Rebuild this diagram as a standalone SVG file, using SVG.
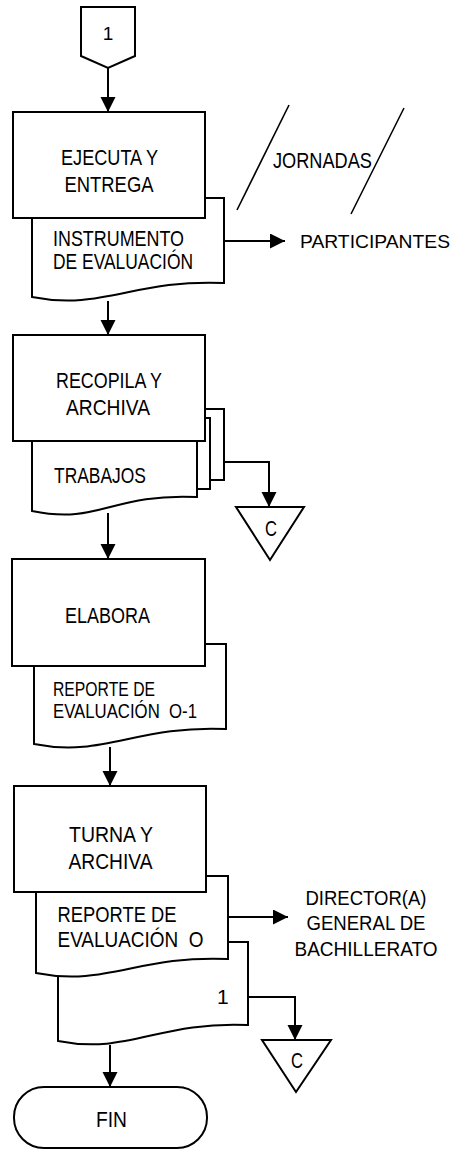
<svg xmlns="http://www.w3.org/2000/svg" width="453" height="1150" viewBox="0 0 453 1150">
  <style>
    .shape { fill: #fff; stroke: #000; stroke-width: 2; }
    .slash { fill: none; stroke: #000; stroke-width: 1.6; }
    .arrow { fill: none; stroke: #000; stroke-width: 2; marker-end: url(#head); }
    text { font-family: "Liberation Sans", Arial, sans-serif; font-size: 22px; fill: #000; white-space: pre; }
    .c { text-anchor: middle; }
    .small { font-size: 19.5px; }
    .side { font-size: 19px; }
    .dest { font-size: 20px; }
  </style>
  <defs>
    <marker id="head" markerUnits="userSpaceOnUse" markerWidth="16" markerHeight="16" refX="15" refY="7.5" orient="auto">
      <path d="M0,0 L15,7.5 L0,15 Z" fill="#000"/>
    </marker>
  </defs>

  <!-- connectors -->
  <g id="connectors">
    <line class="arrow" x1="108" y1="68" x2="108" y2="112"/>
    <line class="arrow" x1="224" y1="241" x2="285" y2="241"/>
    <line class="arrow" x1="108" y1="301" x2="108" y2="335"/>
    <polyline class="arrow" points="224,462 269,462 269,507"/>
    <line class="arrow" x1="108" y1="513" x2="108" y2="559"/>
    <line class="arrow" x1="110" y1="747" x2="110" y2="786"/>
    <line class="arrow" x1="228" y1="917" x2="288" y2="917"/>
    <polyline class="arrow" points="248,997 295,997 295,1040"/>
    <line class="arrow" x1="110" y1="1045" x2="110" y2="1087"/>
  </g>

  <!-- off-page connector 1 -->
  <g id="start-connector">
    <path class="shape" d="M81,7 H135 V56 L108,68 L81,56 Z"/>
    <text class="c" x="108" y="40" style="font-size:19px">1</text>
  </g>

  <!-- jornadas (parallel annotation) -->
  <g id="jornadas">
    <line class="slash" x1="289" y1="105" x2="237" y2="210"/>
    <line class="slash" x1="404" y1="108" x2="351" y2="214"/>
    <text x="273" y="168" textLength="99" lengthAdjust="spacingAndGlyphs">JORNADAS</text>
  </g>

  <!-- document: instrumento de evaluación -->
  <g id="doc-instrumento">
    <path class="shape" d="M32,198 H224 V283 C134,279 102,311 32,297 Z"/>
    <text x="53" y="246" textLength="131" lengthAdjust="spacingAndGlyphs">INSTRUMENTO</text>
    <text x="53" y="269" textLength="140" lengthAdjust="spacingAndGlyphs">DE EVALUACIÓN</text>
  </g>

  <!-- process: ejecuta y entrega -->
  <g id="proc-ejecuta">
    <rect class="shape" x="13" y="112" width="192" height="106"/>
    <text x="61" y="165" textLength="97" lengthAdjust="spacingAndGlyphs">EJECUTA Y</text>
    <text x="64.5" y="192" textLength="89" lengthAdjust="spacingAndGlyphs">ENTREGA</text>
  </g>

  <g id="participantes">
    <text class="side" x="300" y="248" textLength="150" lengthAdjust="spacingAndGlyphs">PARTICIPANTES</text>
  </g>

  <!-- stacked documents: trabajos -->
  <g id="doc-trabajos">
    <path class="shape" d="M150,409 H224 V480 H150 Z"/>
    <path class="shape" d="M150,418 H210 V489 H150 Z"/>
    <path class="shape" d="M32,441 H197 V497 C110,493 100,525 32,511 Z"/>
    <text x="54" y="483" textLength="92" lengthAdjust="spacingAndGlyphs">TRABAJOS</text>
  </g>

  <!-- process: recopila y archiva -->
  <g id="proc-recopila">
    <rect class="shape" x="13" y="335" width="192" height="106"/>
    <text x="56" y="388" textLength="106" lengthAdjust="spacingAndGlyphs">RECOPILA Y</text>
    <text x="66" y="415" textLength="84" lengthAdjust="spacingAndGlyphs">ARCHIVA</text>
  </g>

  <!-- archive C (first) -->
  <g id="archivo-1">
    <path class="shape" d="M236,507 H304 L270,560 Z"/>
    <text x="265" y="536" textLength="12" lengthAdjust="spacingAndGlyphs">C</text>
  </g>

  <!-- document: reporte de evaluación O-1 -->
  <g id="doc-reporte-o1">
    <path class="shape" d="M34,644 H226 V729 C136,725 104,758 34,744 Z"/>
    <text class="small" x="53" y="696" textLength="102" lengthAdjust="spacingAndGlyphs">REPORTE DE</text>
    <text class="small" x="53" y="718" textLength="144" lengthAdjust="spacingAndGlyphs">EVALUACIÓN  O-1</text>
  </g>

  <!-- process: elabora -->
  <g id="proc-elabora">
    <rect class="shape" x="12" y="559" width="193" height="107"/>
    <text x="65" y="623" textLength="85" lengthAdjust="spacingAndGlyphs">ELABORA</text>
  </g>

  <!-- documents: reporte de evaluación O, original and copy 1 -->
  <g id="doc-reporte-o">
    <path class="shape" d="M58,942 H248 V1025 C158,1021 128,1055 58,1041 Z"/>
    <text x="217" y="1004" style="font-size:21px">1</text>
    <path class="shape" d="M36,876 H228 V959 C138,955 106,987 36,973 Z"/>
    <text x="57.5" y="922" textLength="119" lengthAdjust="spacingAndGlyphs">REPORTE DE</text>
    <text x="57.5" y="947" textLength="146" lengthAdjust="spacingAndGlyphs">EVALUACIÓN  O</text>
  </g>

  <!-- process: turna y archiva -->
  <g id="proc-turna">
    <rect class="shape" x="14" y="786" width="192" height="106"/>
    <text x="69" y="842" textLength="84" lengthAdjust="spacingAndGlyphs">TURNA Y</text>
    <text x="68.5" y="868.5" textLength="84" lengthAdjust="spacingAndGlyphs">ARCHIVA</text>
  </g>

  <g id="director">
    <text class="dest" x="305.5" y="905" textLength="121" lengthAdjust="spacingAndGlyphs">DIRECTOR(A)</text>
    <text class="dest" x="306.5" y="930" textLength="119" lengthAdjust="spacingAndGlyphs">GENERAL DE</text>
    <text class="dest" x="294.5" y="956" textLength="143" lengthAdjust="spacingAndGlyphs">BACHILLERATO</text>
  </g>

  <!-- archive C (second) -->
  <g id="archivo-2">
    <path class="shape" d="M262,1040 H331 L296,1092 Z"/>
    <text x="291" y="1068" textLength="12" lengthAdjust="spacingAndGlyphs">C</text>
  </g>

  <!-- terminator -->
  <g id="fin">
    <rect class="shape" x="14" y="1087" width="193" height="61" rx="30" ry="30"/>
    <text x="96" y="1127" textLength="31" lengthAdjust="spacingAndGlyphs">FIN</text>
  </g>
</svg>
